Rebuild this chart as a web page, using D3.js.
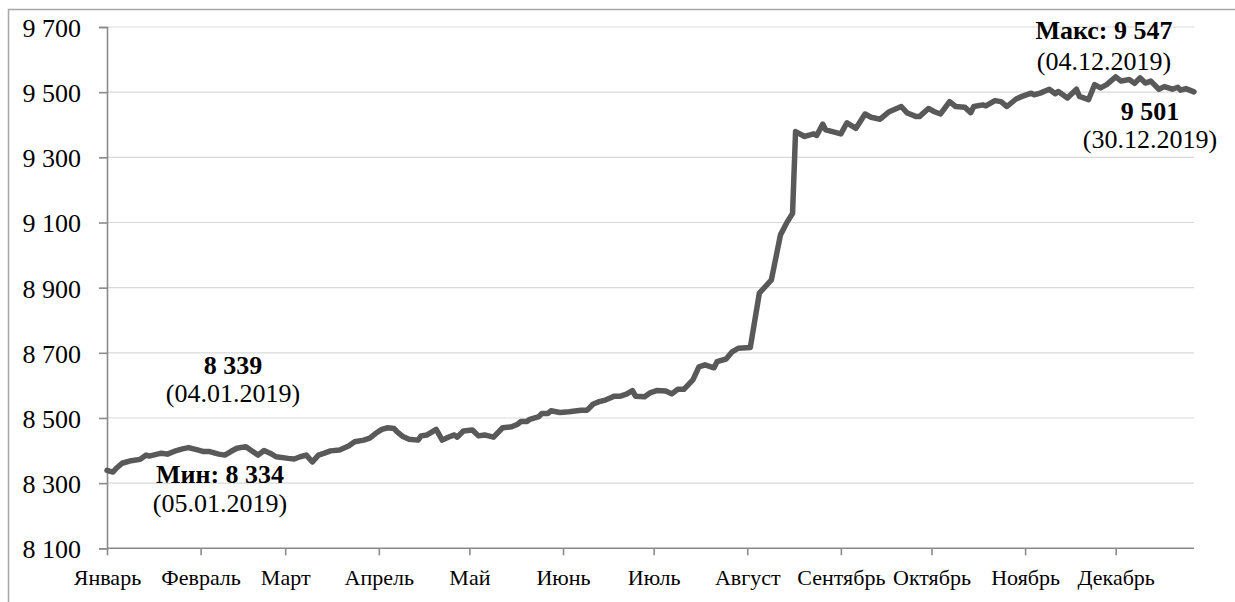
<!DOCTYPE html>
<html>
<head>
<meta charset="utf-8">
<script src="https://cdn.jsdelivr.net/npm/d3@7"></script>
<style>
  html, body { margin: 0; padding: 0; background: #ffffff; }
  svg { display: block; font-family: "Liberation Serif", "Times New Roman", serif; }
</style>
</head>
<body>
<svg id="chart" width="1235" height="602"></svg>
<script>
// ---- data ----
const monthLabels = ["Январь","Февраль","Март","Апрель","Май","Июнь","Июль","Август","Сентябрь","Октябрь","Ноябрь","Декабрь"];
const yTicks = [8100, 8300, 8500, 8700, 8900, 9100, 9300, 9500, 9700];
const dates = [
  "2019-01-01","2019-01-03","2019-01-04","2019-01-06","2019-01-09","2019-01-12","2019-01-14","2019-01-15","2019-01-19","2019-01-21",
  "2019-01-24","2019-01-26","2019-01-28","2019-01-31","2019-02-02","2019-02-04","2019-02-07","2019-02-09","2019-02-11","2019-02-13",
  "2019-02-16","2019-02-18","2019-02-20","2019-02-22","2019-02-24","2019-02-26","2019-03-02","2019-03-04","2019-03-06","2019-03-08",
  "2019-03-10","2019-03-12","2019-03-14","2019-03-16","2019-03-19","2019-03-22","2019-03-24","2019-03-27","2019-03-29","2019-03-31",
  "2019-04-02","2019-04-04","2019-04-06","2019-04-07","2019-04-09","2019-04-11","2019-04-14","2019-04-15","2019-04-17","2019-04-20",
  "2019-04-22","2019-04-24","2019-04-26","2019-04-27","2019-04-29","2019-05-02","2019-05-04","2019-05-06","2019-05-09","2019-05-12",
  "2019-05-15","2019-05-17","2019-05-18","2019-05-20","2019-05-21","2019-05-24","2019-05-25","2019-05-27","2019-05-28","2019-05-31",
  "2019-06-03","2019-06-07","2019-06-09","2019-06-11","2019-06-13","2019-06-15","2019-06-17","2019-06-18","2019-06-20","2019-06-22",
  "2019-06-24","2019-06-25","2019-06-28","2019-06-30","2019-07-02","2019-07-05","2019-07-07","2019-07-09","2019-07-11","2019-07-14",
  "2019-07-16","2019-07-18","2019-07-21","2019-07-22","2019-07-25","2019-07-27","2019-07-29","2019-08-02","2019-08-05","2019-08-09",
  "2019-08-12","2019-08-14","2019-08-16","2019-08-17","2019-08-20","2019-08-23","2019-08-24","2019-08-26","2019-08-27","2019-09-01",
  "2019-09-03","2019-09-06","2019-09-09","2019-09-11","2019-09-14","2019-09-15","2019-09-17","2019-09-21","2019-09-23","2019-09-26",
  "2019-09-27","2019-09-30","2019-10-02","2019-10-04","2019-10-07","2019-10-09","2019-10-12","2019-10-14","2019-10-15","2019-10-18",
  "2019-10-19","2019-10-22","2019-10-24","2019-10-26","2019-10-29","2019-10-31","2019-11-03","2019-11-04","2019-11-06","2019-11-09",
  "2019-11-11","2019-11-12","2019-11-15","2019-11-18","2019-11-19","2019-11-22","2019-11-24","2019-11-26","2019-11-28","2019-12-01",
  "2019-12-03","2019-12-06","2019-12-08","2019-12-10","2019-12-12","2019-12-14","2019-12-17","2019-12-19","2019-12-22","2019-12-24",
  "2019-12-25","2019-12-27","2019-12-30"
];
const values = [
  8339,8334,8345,8361,8369,8373,8386,8383,8392,8389,
  8400,8405,8409,8402,8397,8397,8389,8386,8397,8407,
  8412,8399,8386,8400,8392,8381,8376,8374,8381,8386,
  8365,8386,8392,8399,8402,8414,8427,8432,8438,8453,
  8465,8470,8468,8458,8443,8435,8432,8445,8448,8465,
  8432,8441,8448,8441,8460,8463,8445,8448,8441,8470,
  8473,8481,8489,8489,8496,8504,8514,8514,8522,8517,
  8519,8524,8524,8543,8550,8555,8563,8567,8567,8573,
  8584,8567,8565,8578,8584,8583,8574,8588,8588,8617,
  8657,8663,8654,8673,8681,8703,8714,8716,8883,8924,
  9062,9098,9128,9379,9364,9372,9367,9402,9384,9372,
  9406,9389,9433,9423,9417,9425,9440,9456,9436,9425,
  9425,9450,9440,9433,9471,9456,9454,9437,9456,9461,
  9458,9474,9471,9456,9479,9487,9497,9492,9497,9509,
  9495,9502,9482,9509,9487,9477,9523,9513,9523,9547,
  9534,9539,9527,9544,9528,9534,9509,9517,9509,9515,
  9506,9511,9501
];
const annoMin = ["Мин: 8 334", "(05.01.2019)"];
const annoFirst = ["8 339", "(04.01.2019)"];
const annoMax = ["Макс: 9 547", "(04.12.2019)"];
const annoLast = ["9 501", "(30.12.2019)"];

// ---- drawing ----
(function () {
const parse = d3.timeParse("%Y-%m-%d");
const data = dates.map((d, i) => ({ date: parse(d), value: values[i] }));

const svg = d3.select("#chart");
const mLeft = 107, mRight = 1194, mTop = 27, mBottom = 548.3;
const serif = "Liberation Serif, Times New Roman, serif";

const x = d3.scaleTime()
  .domain([parse("2019-01-01"), parse("2019-12-01"), parse("2019-12-30")])
  .range([mLeft, 1115.7, mRight]);
const y = d3.scaleLinear().domain([8100, 9700]).range([mBottom, mTop]);

// outer frame
svg.append("rect")
  .attr("x", 8.5).attr("y", 9.5)
  .attr("width", 1400).attr("height", 800)
  .attr("fill", "none").attr("stroke", "#a8a8a8").attr("stroke-width", 1.5);

// gridlines
svg.append("g")
  .selectAll("line")
  .data(yTicks.filter(t => t !== 8100))
  .join("line")
  .attr("x1", mLeft).attr("x2", mRight)
  .attr("y1", d => y(d)).attr("y2", d => y(d))
  .attr("stroke", "#d9d9d9").attr("stroke-width", 1.2);

// y axis
const monthStarts = d3.timeMonth.range(parse("2019-01-01"), parse("2019-12-02"));
const yAxis = d3.axisLeft(y).tickValues(yTicks).tickSize(8).tickPadding(18)
  .tickFormat(d => d3.format(",")(d).replace(",", " "));
const gy = svg.append("g").attr("transform", `translate(${mLeft},0)`).call(yAxis)
  .attr("font-family", serif);
gy.select(".domain").attr("stroke", "#8a8a8a").attr("stroke-width", 1.6);
gy.selectAll(".tick line").attr("stroke", "#8a8a8a").attr("stroke-width", 1.6);
gy.selectAll(".tick text")
  .attr("font-family", serif)
  .attr("font-size", 26).attr("fill", "#000").attr("dy", "0.36em");

// x axis
const xAxis = d3.axisBottom(x).tickValues(monthStarts).tickSize(7).tickSizeOuter(0).tickPadding(15)
  .tickFormat(d => monthLabels[d.getMonth()]);
const gx = svg.append("g").attr("transform", `translate(0,${mBottom})`).call(xAxis)
  .attr("font-family", serif);
gx.select(".domain").attr("stroke", "#8a8a8a").attr("stroke-width", 1.6)
  .attr("d", `M${mLeft},0H${mRight}`);
gx.selectAll(".tick line").attr("stroke", "#8a8a8a").attr("stroke-width", 1.6);
gx.selectAll(".tick text")
  .attr("font-family", serif)
  .attr("font-size", 22).attr("fill", "#000").attr("dy", "0.66em");

// line
const line = d3.line().x(d => x(d.date)).y(d => y(d.value));
svg.append("path")
  .datum(data)
  .attr("d", line)
  .attr("fill", "none")
  .attr("stroke", "#595959")
  .attr("stroke-width", 5.5)
  .attr("stroke-linejoin", "round")
  .attr("stroke-linecap", "round");

// annotations
function anno(lines, cx, y1, y2) {
  const g = svg.append("g").attr("font-family", serif)
    .attr("font-size", 26).attr("text-anchor", "middle").attr("fill", "#000");
  g.append("text").attr("x", cx).attr("y", y1).attr("font-weight", "bold").text(lines[0]);
  g.append("text").attr("x", cx).attr("y", y2).text(lines[1]);
}
anno(annoFirst, 233, 374, 402);
anno(annoMin, 220, 483, 512);
anno(annoMax, 1104, 39, 70);
anno(annoLast, 1150, 120, 148);
})();
</script>
</body>
</html>
